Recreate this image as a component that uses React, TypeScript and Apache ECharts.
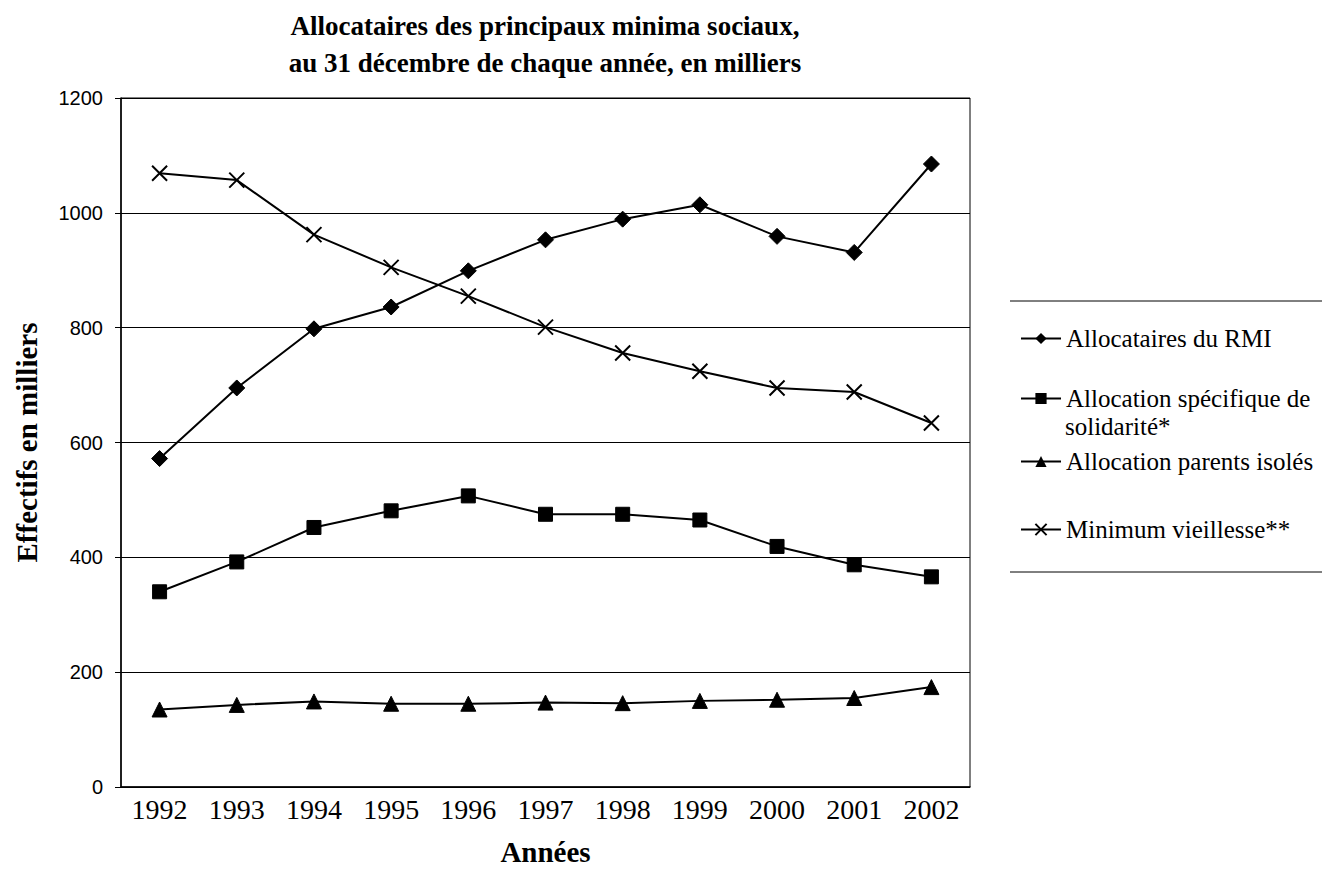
import React, { useEffect, useRef } from "react";
import * as echarts from "echarts";

const years = ["1992", "1993", "1994", "1995", "1996", "1997", "1998", "1999", "2000", "2001", "2002"];
const rmi = [572, 695, 798, 836, 899, 953, 989, 1014, 959, 931, 1085];
const ass = [340, 392, 452, 481, 507, 475, 475, 465, 419, 387, 366];
const api = [135, 143, 149, 145, 145, 147, 146, 150, 152, 155, 174];
const mv = [1069, 1057, 962, 905, 855, 801, 756, 724, 695, 688, 634];

const seriesNames = [
  "Allocataires du RMI",
  "Allocation spécifique de solidarité*",
  "Allocation parents isolés",
  "Minimum vieillesse**",
];

const SERIF = "Liberation Serif";
const SANS = "Liberation Sans";

export default function App() {
  const ref = useRef<HTMLDivElement>(null);

  useEffect(() => {
    if (!ref.current) return;
    const chart = echarts.init(ref.current, null, { renderer: "svg" });

    const lineBase = {
      type: "line" as const,
      lineStyle: { color: "#000", width: 2 },
      itemStyle: { color: "#000", borderColor: "#000" },
      emphasis: { disabled: true },
    };

    const legendCenters = [337, 397, 460, 528];
    const legendFormat = (name: string) =>
      name === seriesNames[1] ? "Allocation spécifique de" : name;

    const legends = seriesNames.map((n, i) => ({
      data: [n],
      left: 1020,
      top: legendCenters[i] - 11,
      padding: 0,
      itemWidth: 40,
      itemHeight: 14,
      formatter: legendFormat,
      selectedMode: false,
      textStyle: { fontFamily: SERIF, fontSize: 25, color: "#000", lineHeight: 22 },
    }));

    chart.setOption({
      animation: false,
      backgroundColor: "#fff",
      title: {
        text: "Allocataires des principaux minima sociaux,\nau 31 décembre de chaque année, en milliers",
        left: 545,
        top: 7,
        padding: 0,
        textAlign: "center",
        textStyle: { fontFamily: SERIF, fontSize: 27, fontWeight: "bold", color: "#000", lineHeight: 37 },
      },
      legend: legends,
      graphic: [
        {
          type: "line",
          shape: { x1: 1010, y1: 301, x2: 1322, y2: 301 },
          style: { stroke: "#000", lineWidth: 1 },
        },
        {
          type: "line",
          shape: { x1: 1010, y1: 572, x2: 1322, y2: 572 },
          style: { stroke: "#000", lineWidth: 1 },
        },
        {
          type: "text",
          x: 1065,
          y: 426,
          style: {
            text: "solidarité*",
            font: `25px ${SERIF}`,
            fill: "#000",
            verticalAlign: "middle",
            lineHeight: 22,
          },
        },
      ],
      grid: {
        left: 121,
        right: 356,
        top: 98,
        bottom: 100,
        show: true,
        borderColor: "#000",
        borderWidth: 1,
      },
      xAxis: {
        type: "category",
        data: years,
        boundaryGap: true,
        name: "Années",
        nameLocation: "middle",
        nameGap: 50,
        nameTextStyle: { fontFamily: SERIF, fontSize: 29, fontWeight: "bold", color: "#000" },
        axisLine: { lineStyle: { color: "#000", width: 1.5 } },
        axisTick: { show: false },
        axisLabel: { fontFamily: SERIF, fontSize: 28, color: "#000", margin: 8 },
      },
      yAxis: {
        type: "value",
        min: 0,
        max: 1200,
        interval: 200,
        name: "Effectifs en milliers",
        nameLocation: "middle",
        nameGap: 80,
        nameTextStyle: { fontFamily: SERIF, fontSize: 29, fontWeight: "bold", color: "#000" },
        axisLine: { show: true, lineStyle: { color: "#000", width: 1.5 } },
        axisTick: { show: true, length: 6, lineStyle: { color: "#000" } },
        axisLabel: {
          fontFamily: SANS,
          fontSize: 20,
          color: "#000",
          margin: 18,
          formatter: (v: number) => String(v),
        },
        splitLine: { show: true, lineStyle: { color: "#000", width: 1 } },
      },
      series: [
        { ...lineBase, name: seriesNames[0], data: rmi, symbol: "diamond", symbolSize: 16 },
        { ...lineBase, name: seriesNames[1], data: ass, symbol: "rect", symbolSize: 14 },
        { ...lineBase, name: seriesNames[2], data: api, symbol: "triangle", symbolSize: 15 },
        {
          ...lineBase,
          name: seriesNames[3],
          data: mv,
          symbol: "path://M0,0L10,10M10,0L0,10",
          symbolSize: 15,
          itemStyle: { color: "#000", borderColor: "#000", borderWidth: 2 },
        },
      ],
    });

    return () => chart.dispose();
  }, []);

  return (
    <div
      ref={ref}
      style={{ position: "fixed", left: 0, top: 0, width: 1326, height: 887, background: "#fff" }}
    />
  );
}
